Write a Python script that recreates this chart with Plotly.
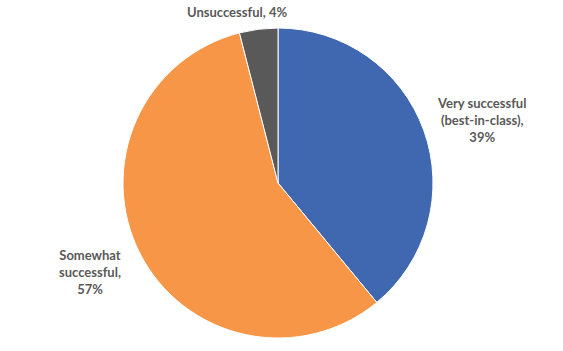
import plotly.graph_objects as go

categories = ["Very successful (best-in-class)", "Somewhat successful", "Unsuccessful"]
values = [39, 57, 4]
colors = ["#4068B0", "#F79646", "#595959"]
label_lines = ["Very successful<br>(best-in-class),<br>39%", "Somewhat<br>successful,<br>57%", "Unsuccessful, 4%"]

W, H = 563, 351
cx, cy, r = 278, 183, 155

fig = go.Figure(go.Pie(
    labels=categories, values=values, sort=False, direction="clockwise", rotation=0,
    marker=dict(colors=colors, line=dict(color="white", width=1)),
    textinfo="none", hoverinfo="label+percent", showlegend=False,
    domain=dict(x=[(cx - r) / W, (cx + r) / W], y=[1 - (cy + r) / H, 1 - (cy - r) / H]),
))

label_pos = [(481, 120), (90, 272), (237, 12)]
for txt, (x, y) in zip(label_lines, label_pos):
    fig.add_annotation(x=x / W, y=1 - y / H, xref="paper", yref="paper", text=txt,
                       showarrow=False, align="center", xanchor="center", yanchor="middle",
                       font=dict(family="Lato", size=13, color="#595959"))

fig.update_layout(width=W, height=H, margin=dict(l=0, r=0, t=0, b=0),
                  paper_bgcolor="white", plot_bgcolor="white",
                  font=dict(family="Lato"))
for a in fig.layout.annotations:
    a.text = "<b>" + a.text.replace("<br>", "</b><br><b>") + "</b>"
fig.write_html("out.html")
